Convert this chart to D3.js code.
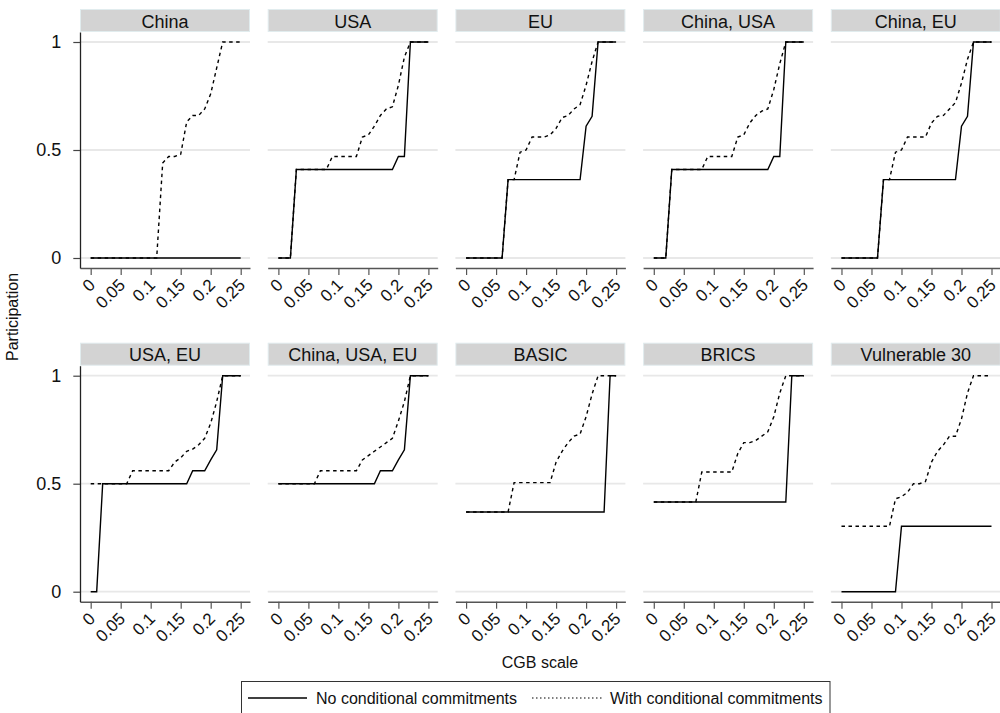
<!DOCTYPE html>
<html>
<head>
<meta charset="utf-8">
<script src="https://cdn.jsdelivr.net/npm/d3@7"></script>
<style>
  body { margin: 0; background: #fff; }
  svg { font-family: "Liberation Sans", Arial, sans-serif; }
</style>
</head>
<body>
<div id="chart"></div>
<script>
// CGB scale grid (x) shared by every panel
const xs = [0, 0.01, 0.02, 0.03, 0.04, 0.05, 0.06, 0.07, 0.08, 0.09, 0.10, 0.11, 0.12,
            0.13, 0.14, 0.15, 0.16, 0.17, 0.18, 0.19, 0.20, 0.21, 0.22, 0.23, 0.24, 0.25];

const xTicks = [0, 0.05, 0.1, 0.15, 0.2, 0.25];
const xTickLabels = ['0', '0.05', '0.1', '0.15', '0.2', '0.25'];
const yTicks = [0, 0.5, 1];
const yTickLabels = ['0', '0.5', '1'];

// participation, no conditional commitments / with conditional commitments
const chinaNo   = [0,0,0,0,0,0,0,0,0,0,0,0,0,0,0,0,0,0,0,0,0,0,0,0,0,0];
const chinaWith = [0,0,0,0,0,0,0,0,0,0,0,0,0.44,0.47,0.47,0.48,0.63,0.66,0.66,0.69,0.76,0.88,1,1,1,1];

const usaNo   = [0,0,0,0.41,0.41,0.41,0.41,0.41,0.41,0.41,0.41,0.41,0.41,0.41,0.41,0.41,0.41,0.41,0.41,0.41,0.47,0.47,1,1,1,1];
const usaWith = [0,0,0,0.41,0.41,0.41,0.41,0.41,0.41,0.47,0.47,0.47,0.47,0.47,0.56,0.57,0.61,0.66,0.69,0.70,0.80,0.93,1,1,1,1];

const euNo   = [0,0,0,0,0,0,0,0.363,0.363,0.363,0.363,0.363,0.363,0.363,0.363,0.363,0.363,0.363,0.363,0.363,0.61,0.656,1,1,1,1];
const euWith = [0,0,0,0,0,0,0,0.363,0.363,0.49,0.50,0.56,0.56,0.56,0.57,0.60,0.65,0.66,0.69,0.71,0.80,0.91,1,1,1,1];

const chinaUsaNo   = [0,0,0,0.41,0.41,0.41,0.41,0.41,0.41,0.41,0.41,0.41,0.41,0.41,0.41,0.41,0.41,0.41,0.41,0.41,0.47,0.47,1,1,1,1];
const chinaUsaWith = [0,0,0,0.41,0.41,0.41,0.41,0.41,0.41,0.47,0.47,0.47,0.47,0.47,0.56,0.57,0.625,0.66,0.68,0.69,0.78,0.90,1,1,1,1];

const chinaEuNo   = [0,0,0,0,0,0,0,0.363,0.363,0.363,0.363,0.363,0.363,0.363,0.363,0.363,0.363,0.363,0.363,0.363,0.61,0.656,1,1,1,1];
const chinaEuWith = [0,0,0,0,0,0,0,0.363,0.363,0.49,0.50,0.56,0.56,0.56,0.56,0.625,0.656,0.66,0.69,0.72,0.81,0.92,1,1,1,1];

const usaEuNo   = [0,0,0.5,0.5,0.5,0.5,0.5,0.5,0.5,0.5,0.5,0.5,0.5,0.5,0.5,0.5,0.5,0.56,0.56,0.56,0.61,0.657,1,1,1,1];
const usaEuWith = [0.5,0.5,0.5,0.5,0.5,0.5,0.5,0.56,0.56,0.56,0.56,0.56,0.56,0.56,0.60,0.62,0.65,0.66,0.68,0.71,0.78,0.88,1,1,1,1];

const chinaUsaEuNo   = [0.5,0.5,0.5,0.5,0.5,0.5,0.5,0.5,0.5,0.5,0.5,0.5,0.5,0.5,0.5,0.5,0.5,0.56,0.56,0.56,0.61,0.657,1,1,1,1];
const chinaUsaEuWith = [0.5,0.5,0.5,0.5,0.5,0.5,0.5,0.56,0.56,0.56,0.56,0.56,0.56,0.56,0.61,0.63,0.65,0.67,0.69,0.71,0.79,0.88,1,1,1,1];

const basicNo   = [0.369,0.369,0.369,0.369,0.369,0.369,0.369,0.369,0.369,0.369,0.369,0.369,0.369,0.369,0.369,0.369,0.369,0.369,0.369,0.369,0.369,0.369,0.369,0.369,1,1];
const basicWith = [0.369,0.369,0.369,0.369,0.369,0.369,0.369,0.369,0.505,0.505,0.505,0.505,0.505,0.505,0.505,0.60,0.65,0.69,0.72,0.73,0.81,0.915,1,1,1,1];

const bricsNo   = [0.415,0.415,0.415,0.415,0.415,0.415,0.415,0.415,0.415,0.415,0.415,0.415,0.415,0.415,0.415,0.415,0.415,0.415,0.415,0.415,0.415,0.415,0.415,1,1,1];
const bricsWith = [0.415,0.415,0.415,0.415,0.415,0.415,0.415,0.415,0.554,0.554,0.554,0.554,0.554,0.554,0.64,0.69,0.69,0.70,0.72,0.74,0.81,0.92,1,1,1,1];

const v30No   = [0,0,0,0,0,0,0,0,0,0,0.303,0.303,0.303,0.303,0.303,0.303,0.303,0.303,0.303,0.303,0.303,0.303,0.303,0.303,0.303,0.303];
const v30With = [0.303,0.303,0.303,0.303,0.303,0.303,0.303,0.303,0.303,0.43,0.44,0.46,0.50,0.50,0.51,0.60,0.65,0.68,0.72,0.72,0.80,0.92,1,1,1,1];

const panels = [
    {name: 'China',           no: chinaNo,       cond: chinaWith},
    {name: 'USA',             no: usaNo,         cond: usaWith},
    {name: 'EU',              no: euNo,          cond: euWith},
    {name: 'China, USA',      no: chinaUsaNo,    cond: chinaUsaWith},
    {name: 'China, EU',       no: chinaEuNo,     cond: chinaEuWith},
    {name: 'USA, EU',         no: usaEuNo,       cond: usaEuWith},
    {name: 'China, USA, EU',  no: chinaUsaEuNo,  cond: chinaUsaEuWith},
    {name: 'BASIC',           no: basicNo,       cond: basicWith},
    {name: 'BRICS',           no: bricsNo,       cond: bricsWith},
    {name: 'Vulnerable 30',   no: v30No,         cond: v30With}
];

const W = 1000, H = 713;
const colLeft0 = 80, colStep = 187.7, panelW = 170;
const rowTop = [9, 342.7];
const headH = 23, plotH = 236;

let svg = d3.select('#chart').append('svg')
    .attr('width', W)
    .attr('height', H)
    .attr('viewBox', '0 0 ' + W + ' ' + H);

panels.forEach((p, i) => {
    let col = i % 5, row = Math.floor(i / 5);
    let left = colLeft0 + col * colStep;
    let headTop = rowTop[row];
    let plotTop = headTop + headH;
    let axisY = plotTop + plotH;

    let x = d3.scaleLinear().domain([-0.0178, 0.2655]).range([left, left + panelW]);
    let y = d3.scaleLinear().domain([-0.0463, 1.0463]).range([axisY, plotTop]);

    let g = svg.append('g');

    // header strip
    g.append('rect')
        .attr('x', left + 0.5)
        .attr('y', headTop + 0.5)
        .attr('width', panelW - 1)
        .attr('height', headH - 1)
        .attr('fill', '#d3d3d3')
        .attr('stroke', '#e1ecee')
        .attr('stroke-width', 1);
    g.append('text')
        .attr('x', left + panelW / 2)
        .attr('y', headTop + headH / 2 + 1)
        .attr('text-anchor', 'middle')
        .attr('dominant-baseline', 'central')
        .attr('font-size', 18)
        .attr('fill', '#111')
        .text(p.name);

    // gridlines
    g.append('g').selectAll('line')
        .data(yTicks).enter()
        .append('line')
        .attr('x1', left)
        .attr('x2', left + panelW)
        .attr('y1', d => y(d))
        .attr('y2', d => y(d))
        .attr('stroke', '#e8e8e8')
        .attr('stroke-width', 1.8);

    // x axis
    let xAxis = g.append('g')
        .attr('transform', `translate(0,${axisY})`)
        .call(d3.axisBottom(x)
            .tickValues(xTicks)
            .tickSize(7)
            .tickSizeOuter(0)
            .tickFormat((d, k) => xTickLabels[k]));
    xAxis.select('.domain').attr('stroke', '#555').attr('stroke-width', 1.5);
    xAxis.selectAll('.tick line').attr('stroke', '#555').attr('stroke-width', 1.2);
    xAxis.selectAll('.tick text')
        .attr('x', 0)
        .attr('y', 0)
        .attr('dy', null)
        .attr('transform', 'translate(5,18) rotate(-45)')
        .attr('text-anchor', 'end')
        .attr('font-size', 17)
        .attr('font-family', '"Liberation Sans", Arial, sans-serif')
        .attr('fill', '#111');

    // y axis, first column only
    if (col === 0) {
        let yAxis = g.append('g')
            .attr('transform', `translate(${left},0)`)
            .call(d3.axisLeft(y)
                .tickValues(yTicks)
                .tickSize(6.7)
                .tickSizeOuter(0)
                .tickPadding(12)
                .tickFormat((d, k) => yTickLabels[k]));
        yAxis.select('.domain').attr('stroke', '#222').attr('stroke-width', 1.3);
        yAxis.selectAll('.tick line').attr('stroke', '#444').attr('stroke-width', 1.2);
        yAxis.selectAll('.tick text')
            .attr('font-size', 18)
            .attr('font-family', '"Liberation Sans", Arial, sans-serif')
            .attr('fill', '#111');
    }

    let line = d3.line()
        .x((d, k) => x(xs[k]))
        .y(d => y(d));

    // with conditional commitments (dashed) below, no conditional (solid) on top
    g.append('path')
        .attr('d', line(p.cond))
        .attr('fill', 'none')
        .attr('stroke', '#000')
        .attr('stroke-width', 1.4)
        .attr('stroke-dasharray', '3.5,3.5');
    g.append('path')
        .attr('d', line(p.no))
        .attr('fill', 'none')
        .attr('stroke', '#000')
        .attr('stroke-width', 1.4);
});

// axis titles
svg.append('text')
    .attr('transform', 'translate(12,317) rotate(-90)')
    .attr('text-anchor', 'middle')
    .attr('dominant-baseline', 'central')
    .attr('font-size', 16)
    .attr('fill', '#111')
    .text('Participation');

svg.append('text')
    .attr('x', 540)
    .attr('y', 662)
    .attr('text-anchor', 'middle')
    .attr('dominant-baseline', 'central')
    .attr('font-size', 16)
    .attr('fill', '#111')
    .text('CGB scale');

// legend
let lg = svg.append('g');
lg.append('rect')
    .attr('x', 241.5)
    .attr('y', 681.5)
    .attr('width', 588.5)
    .attr('height', 40)
    .attr('fill', 'none')
    .attr('stroke', '#333')
    .attr('stroke-width', 1);
lg.append('line')
    .attr('x1', 248).attr('x2', 307)
    .attr('y1', 698).attr('y2', 698)
    .attr('stroke', '#000').attr('stroke-width', 1.3);
lg.append('text')
    .attr('x', 316).attr('y', 698)
    .attr('dominant-baseline', 'central')
    .attr('font-size', 16)
    .attr('fill', '#111')
    .text('No conditional commitments');
lg.append('line')
    .attr('x1', 532).attr('x2', 602)
    .attr('y1', 698).attr('y2', 698)
    .attr('stroke', '#000').attr('stroke-width', 1.1)
    .attr('stroke-dasharray', '1.5,2.5');
lg.append('text')
    .attr('x', 610).attr('y', 698)
    .attr('dominant-baseline', 'central')
    .attr('font-size', 16)
    .attr('fill', '#111')
    .text('With conditional commitments');
</script>
</body>
</html>
